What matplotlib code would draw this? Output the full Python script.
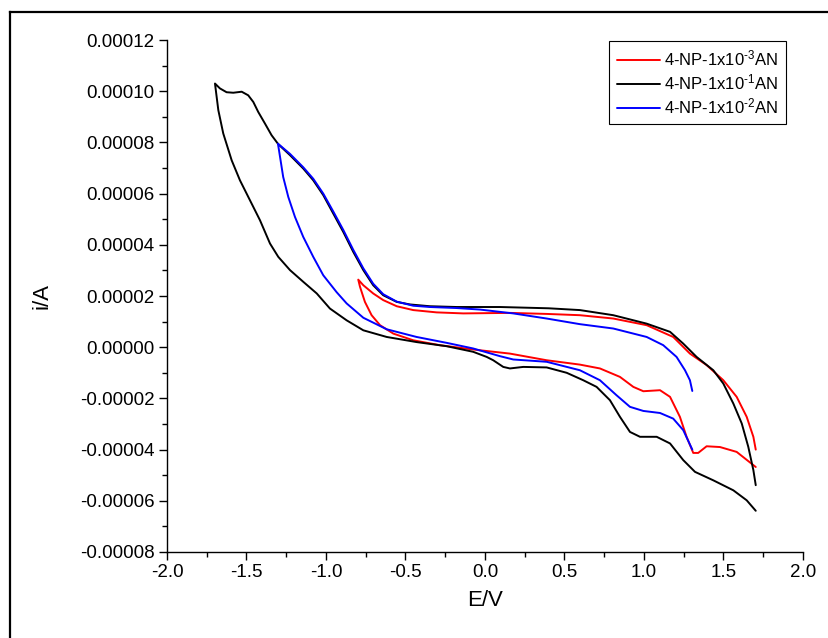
import matplotlib
matplotlib.use("Agg")
import matplotlib.pyplot as plt
from matplotlib.lines import Line2D
from matplotlib.ticker import MultipleLocator, FormatStrFormatter

plt.rcParams['font.family'] = ['Liberation Sans', 'DejaVu Sans']
plt.rcParams['axes.unicode_minus'] = False
plt.rcParams['mathtext.fontset'] = 'custom'
plt.rcParams['mathtext.rm'] = 'Liberation Sans'
plt.rcParams['mathtext.it'] = 'Liberation Sans'

# Black: 4-NP-1x10^-1 AN (cathodic-return branch 1.7 -> -1.7, then forward -1.7 -> 1.7)
black_E = [1.703, 1.646, 1.562, 1.436, 1.321, 1.247, 1.164, 1.080, 0.975, 0.912, 0.849,
           0.786, 0.702, 0.618, 0.514, 0.388, 0.241, 0.157, 0.115, 0.052, 0.011, -0.074,
           -0.241, -0.430, -0.618, -0.765, -0.870, -0.975, -1.058, -1.142, -1.226, -1.300,
           -1.352, -1.415, -1.478, -1.541, -1.593, -1.646, -1.677, -1.698,
           -1.667, -1.625, -1.583, -1.530, -1.489, -1.457, -1.426, -1.384, -1.342, -1.300,
           -1.226, -1.143, -1.080, -1.017, -0.954, -0.891, -0.828, -0.765, -0.703, -0.640,
           -0.555, -0.472, -0.346, -0.178, 0.094, 0.400, 0.597, 0.807, 1.017, 1.164, 1.247,
           1.331, 1.436, 1.499, 1.562, 1.615, 1.656, 1.688, 1.703]
black_I = [-6.39e-5, -5.98e-5, -5.59e-5, -5.20e-5, -4.87e-5, -4.41e-5, -3.76e-5, -3.50e-5,
           -3.50e-5, -3.31e-5, -2.72e-5, -2.07e-5, -1.55e-5, -1.29e-5, -1.0e-5, -7.9e-6,
           -7.7e-6, -8.3e-6, -7.7e-6, -5.1e-6, -3.8e-6, -1.8e-6, 3.9e-7, 2.0e-6, 4.0e-6,
           6.6e-6, 1.05e-5, 1.51e-5, 2.10e-5, 2.55e-5, 3.01e-5, 3.53e-5, 4.05e-5, 4.96e-5,
           5.74e-5, 6.52e-5, 7.30e-5, 8.35e-5, 9.26e-5, 1.030e-4,
           1.011e-4, 9.96e-5, 9.94e-5, 9.98e-5, 9.84e-5, 9.58e-5, 9.19e-5, 8.74e-5, 8.28e-5,
           7.93e-5, 7.50e-5, 6.98e-5, 6.52e-5, 5.94e-5, 5.22e-5, 4.50e-5, 3.72e-5, 3.01e-5,
           2.42e-5, 2.03e-5, 1.77e-5, 1.67e-5, 1.60e-5, 1.57e-5, 1.57e-5, 1.52e-5, 1.45e-5,
           1.25e-5, 9.2e-6, 6.0e-6, 1.4e-6, -3.8e-6, -9.0e-6, -1.42e-5, -2.20e-5, -2.98e-5,
           -3.89e-5, -4.80e-5, -5.39e-5]

# Blue: 4-NP-1x10^-2 AN
blue_E = [1.304, 1.247, 1.184, 1.101, 0.996, 0.912, 0.828, 0.723, 0.597, 0.388, 0.178,
          0.094, -0.074, -0.241, -0.430, -0.618, -0.765, -0.870, -0.933, -1.017, -1.080,
          -1.143, -1.195, -1.237, -1.269, -1.289, -1.302,
          -1.226, -1.143, -1.080, -1.017, -0.954, -0.891, -0.828, -0.765, -0.703, -0.640,
          -0.555, -0.451, -0.346, -0.178, -0.031, 0.178, 0.388, 0.597, 0.807, 1.017, 1.121,
          1.205, 1.258, 1.289, 1.304]
blue_I = [-4.00e-5, -3.24e-5, -2.79e-5, -2.57e-5, -2.49e-5, -2.33e-5, -1.88e-5, -1.29e-5,
          -9.0e-6, -5.7e-6, -4.8e-6, -3.5e-6, -5e-7, 1.7e-6, 4.0e-6, 7.0e-6, 1.15e-5,
          1.71e-5, 2.15e-5, 2.81e-5, 3.53e-5, 4.31e-5, 5.09e-5, 5.87e-5, 6.65e-5, 7.44e-5,
          7.95e-5,
          7.55e-5, 7.03e-5, 6.58e-5, 6.0e-5, 5.3e-5, 4.58e-5, 3.80e-5, 3.08e-5, 2.48e-5,
          2.07e-5, 1.78e-5, 1.62e-5, 1.57e-5, 1.53e-5, 1.47e-5, 1.32e-5, 1.12e-5, 9.0e-6,
          7.3e-6, 4.0e-6, 8e-7, -3.8e-6, -9.0e-6, -1.29e-5, -1.71e-5]

# Red: 4-NP-1x10^-3 AN
red_E = [1.703, 1.583, 1.478, 1.394, 1.341, 1.310, 1.268, 1.226, 1.164, 1.101, 0.996,
         0.933, 0.849, 0.723, 0.597, 0.388, 0.157, -0.074, -0.283, -0.451, -0.576, -0.660,
         -0.713, -0.755, -0.786, -0.797,
         -0.765, -0.703, -0.640, -0.555, -0.451, -0.304, -0.136, 0.157, 0.388, 0.597,
         0.807, 1.017, 1.184, 1.289, 1.394, 1.499, 1.583, 1.646, 1.688, 1.703]
red_I = [-4.68e-5, -4.09e-5, -3.90e-5, -3.87e-5, -4.13e-5, -4.13e-5, -3.50e-5, -2.72e-5,
         -1.94e-5, -1.68e-5, -1.72e-5, -1.55e-5, -1.16e-5, -8.3e-6, -6.8e-6, -5.1e-6,
         -2.5e-6, -9e-7, 7.8e-7, 2.7e-6, 5.3e-6, 8.6e-6, 1.25e-5, 1.77e-5, 2.36e-5, 2.64e-5,
         2.42e-5, 2.10e-5, 1.84e-5, 1.60e-5, 1.45e-5, 1.36e-5, 1.32e-5, 1.34e-5, 1.30e-5,
         1.25e-5, 1.12e-5, 8.6e-6, 4.0e-6, -2.5e-6, -7.0e-6, -1.29e-5, -1.94e-5, -2.72e-5,
         -3.50e-5, -4.00e-5]

labels = ['4-NP-1x10$^{\\text{-3}}$AN', '4-NP-1x10$^{\\text{-1}}$AN',
          '4-NP-1x10$^{\\text{-2}}$AN']

fig = plt.figure(figsize=(8.29, 6.38), dpi=100)
ax = fig.add_axes([0.2014, 0.1348, 0.7672, 0.8025])

kw = dict(lw=1.4, solid_joinstyle='round', solid_capstyle='round')
ax.plot(red_E, red_I, color='#ff0000', label=labels[0], **kw)
ax.plot(black_E, black_I, color='black', label=labels[1], **kw)
ax.plot(blue_E, blue_I, color='#0000ff', label=labels[2], **kw)

ax.set_xlim(-2.0, 2.0)
ax.set_ylim(-0.00008, 0.00012)
ax.xaxis.set_major_locator(MultipleLocator(0.5))
ax.xaxis.set_minor_locator(MultipleLocator(0.25))
ax.yaxis.set_major_locator(MultipleLocator(0.00002))
ax.yaxis.set_minor_locator(MultipleLocator(0.00001))
ax.xaxis.set_major_formatter(FormatStrFormatter('%.1f'))
ax.yaxis.set_major_formatter(FormatStrFormatter('%.5f'))
ax.tick_params(which='major', direction='out', length=6, width=1, labelsize=13.5, pad=3)
ax.tick_params(which='minor', direction='out', length=3.5, width=1)
for s in ['top', 'right']:
    ax.spines[s].set_visible(False)
for s in ['left', 'bottom']:
    ax.spines[s].set_linewidth(1)

ax.set_xlabel('E/V', fontsize=16, labelpad=6)
ax.set_ylabel('i/A', fontsize=16, labelpad=20)

leg = ax.legend(loc='upper right', fontsize=12,
                frameon=True, fancybox=False, edgecolor='black', framealpha=1,
                handlelength=2.6, handletextpad=0.25, borderpad=0.45, labelspacing=0.25,
                borderaxespad=0, bbox_to_anchor=(786/829, 1 - 41/638),
                bbox_transform=fig.transFigure)
leg.get_frame().set_linewidth(0.8)

# figure border (left and top visible)
fig.add_artist(Line2D([10/829, 10/829], [0, 1 - 12/638], transform=fig.transFigure,
                      color='black', lw=1.6))
fig.add_artist(Line2D([10/829, 1], [1 - 12/638, 1 - 12/638], transform=fig.transFigure,
                      color='black', lw=1.6))

fig.savefig('out.png', dpi=100)
